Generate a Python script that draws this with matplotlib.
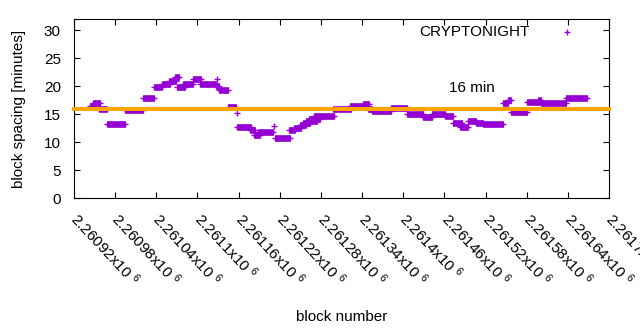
import matplotlib
matplotlib.use("Agg")
import matplotlib.pyplot as plt
from matplotlib.ticker import FixedLocator, FuncFormatter

plt.rcParams['font.family'] = ['Liberation Sans', 'DejaVu Sans']
plt.rcParams['font.size'] = 11
plt.rcParams['mathtext.fontset'] = 'custom'
plt.rcParams['mathtext.rm'] = 'Liberation Sans'
plt.rcParams['mathtext.default'] = 'regular'

seg_start = [2260943, 2260948, 2260956, 2260968, 2260994, 2261021, 2261037, 2261048,
             2261059, 2261067, 2261070, 2261079, 2261093, 2261104, 2261127, 2261131,
             2261145, 2261158, 2261177, 2261182, 2261188, 2261213, 2261233, 2261241,
             2261250, 2261254, 2261258, 2261263, 2261270, 2261298, 2261322, 2261341,
             2261349, 2261354, 2261382, 2261406, 2261429, 2261442, 2261461, 2261473,
             2261483, 2261494, 2261506, 2261516, 2261545, 2261553, 2261557, 2261580,
             2261597, 2261601, 2261637]
seg_end = [2260948, 2260958, 2260968, 2260994, 2261021, 2261037, 2261048, 2261060,
           2261069, 2261073, 2261082, 2261093, 2261105, 2261127, 2261131, 2261145,
           2261156, 2261178, 2261184, 2261191, 2261210, 2261235, 2261242, 2261251,
           2261258, 2261264, 2261274, 2261279, 2261299, 2261324, 2261341, 2261350,
           2261354, 2261382, 2261406, 2261429, 2261442, 2261461, 2261473, 2261486,
           2261494, 2261506, 2261516, 2261545, 2261553, 2261557, 2261580, 2261599,
           2261601, 2261637, 2261668]
seg_value = [16.5, 17.0, 15.9, 13.2, 15.7, 17.9, 19.9, 20.5,
             21.0, 21.7, 19.9, 20.4, 21.4, 20.4, 20.0, 19.3,
             16.4, 12.8, 12.3, 11.4, 11.8, 10.8, 12.2, 12.5,
             13.1, 13.4, 13.9, 14.2, 14.75, 16.05, 16.5, 16.8,
             15.9, 15.6, 16.2, 15.0, 14.6, 15.0, 14.7, 13.4,
             12.8, 13.8, 13.5, 13.2, 17.1, 17.6, 15.5, 17.2,
             17.5, 17.0, 18.0]

# isolated outliers
single_block = [2261128, 2261157, 2261212]
single_value = [21.4, 15.2, 12.9]

target = 16
xticks = list(range(2260920, 2261701, 60))

purple = '#9400d3'
orange = '#ffa500'

fig = plt.figure(figsize=(6.4, 3.3), dpi=100)
ax = fig.add_axes([0.1156, 0.399, 0.836, 0.5425])

for s, e, v in zip(seg_start, seg_end, seg_value):
    ax.plot([s, e], [v, v], color=purple, lw=4.8, solid_capstyle='butt')
    ax.plot([s, e], [v, v], ls='none', marker='+', ms=5, mew=1, color=purple)
ax.plot(single_block, single_value, ls='none', marker='+', ms=5, mew=1, color=purple)

ax.axhline(target, color=orange, lw=2.9, solid_capstyle='projecting', clip_on=False, zorder=5)
ax.text(2261467, 19, '%d min' % target, ha='left', va='baseline')

# key
ax.text(0.852, 0.929, 'CRYPTONIGHT', transform=ax.transAxes, ha='right', va='center')
ax.plot([0.9215], [0.929], transform=ax.transAxes, ls='none', marker='+', ms=5, mew=1,
        color=purple)

ax.set_xlim(2260920, 2261700)
ax.set_ylim(0, 32)
ax.xaxis.set_major_locator(FixedLocator(xticks))
ax.xaxis.set_major_formatter(FuncFormatter(lambda v, p: '%gx10 $^{6}$' % (v / 1e6)))
ax.set_yticks(range(0, 31, 5))
ax.tick_params(direction='in', length=4, top=True, right=True, width=0.8)
ax.tick_params(axis='x', pad=12.5)
ax.tick_params(axis='y', pad=9.5)
for lab in ax.get_xticklabels():
    lab.set_rotation(-47)
    lab.set_ha('left')
    lab.set_va('center')
    lab.set_rotation_mode('anchor')

ax.set_xlabel('block number', labelpad=15)
ax.set_ylabel('block spacing [minutes]', labelpad=13)

fig.savefig('out.png', dpi=100)
